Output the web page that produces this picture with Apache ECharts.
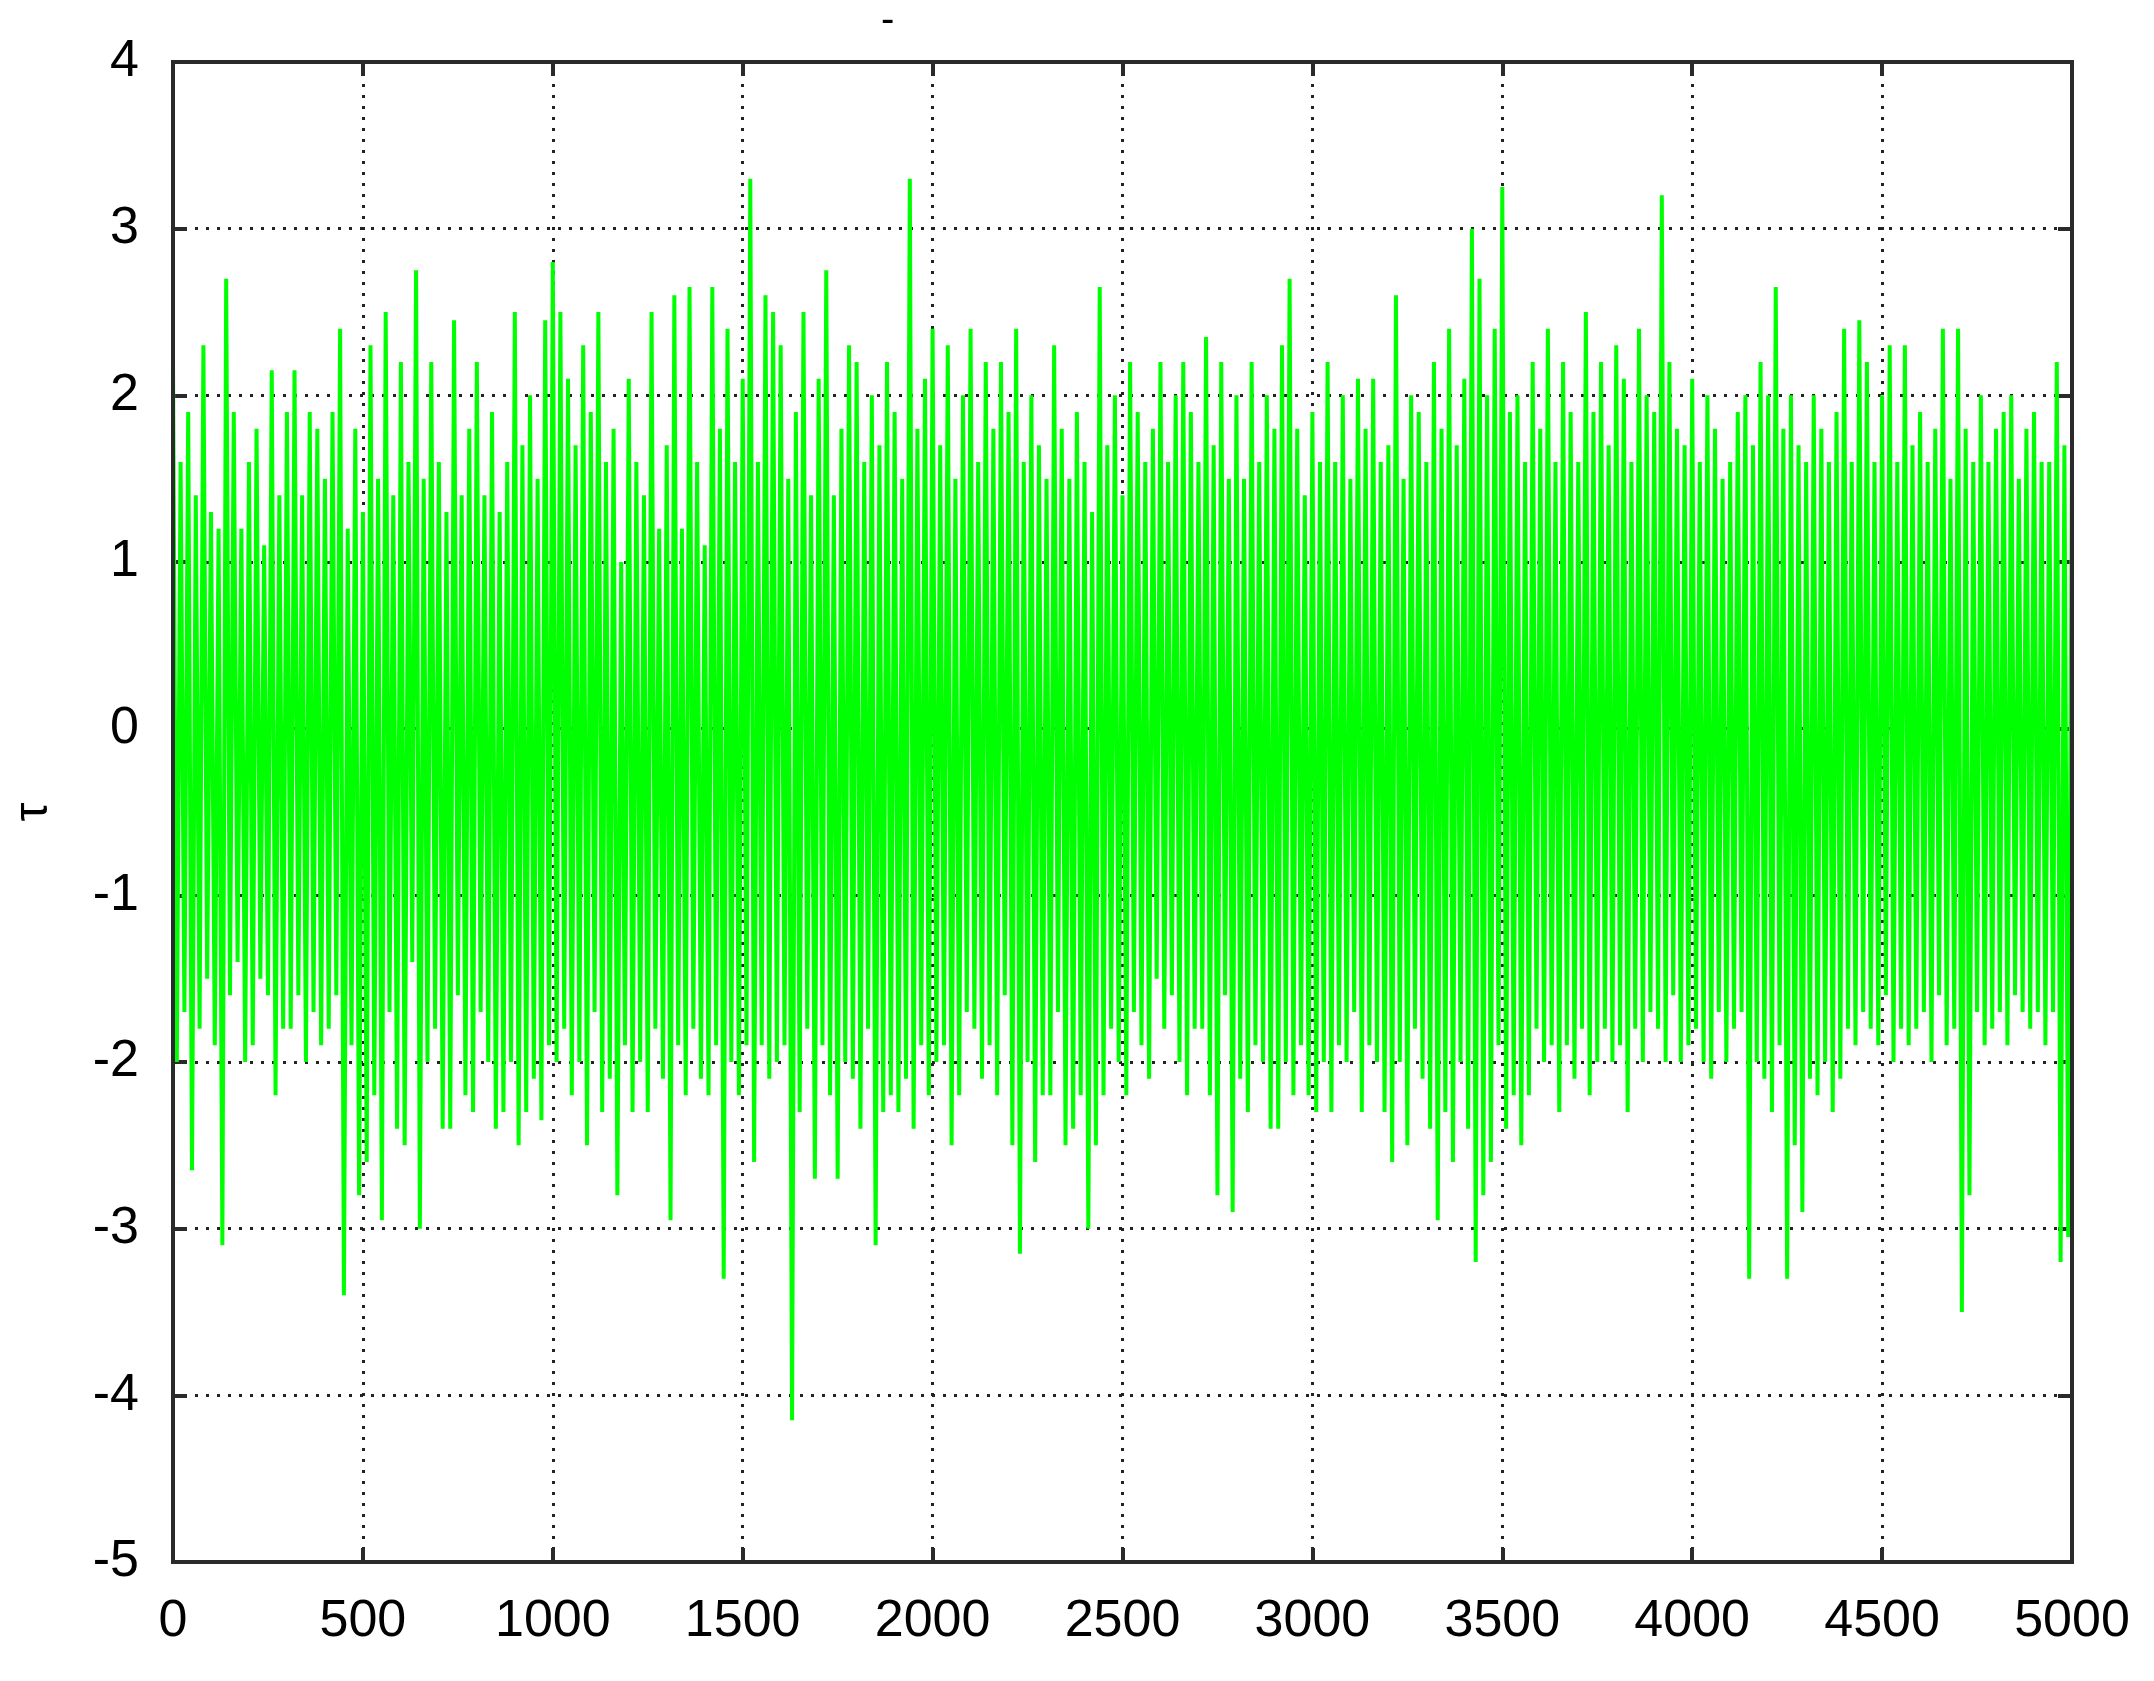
<!DOCTYPE html>
<html><head><meta charset="utf-8">
<script src="https://cdn.jsdelivr.net/npm/echarts@6/dist/echarts.min.js"></script>
<style>html,body{margin:0;padding:0;background:#fff}#main{width:2154px;height:1681px}</style>
</head><body><div id="main"></div>
<script>
// samples every 10 steps, alternating high / low readings of the trace
var step = 10;
var tauValues = [
 2.2,-2.0,1.6,-1.7,1.9,-2.65,1.4,-1.8,2.3,-1.5,
 1.3,-1.9,1.2,-3.1,2.7,-1.6,1.9,-1.4,1.2,-2.0,
 1.6,-1.9,1.8,-1.5,1.1,-1.6,2.15,-2.2,1.4,-1.8,
 1.9,-1.8,2.15,-1.6,1.4,-2.0,1.9,-1.7,1.8,-1.9,
 1.5,-1.8,1.9,-1.6,2.4,-3.4,1.2,-1.9,1.8,-2.8,
 1.3,-2.6,2.3,-2.2,1.5,-2.95,2.5,-1.7,1.4,-2.4,
 2.2,-2.5,1.6,-1.4,2.75,-3.0,1.5,-2.0,2.2,-1.8,
 1.6,-2.4,1.3,-2.4,2.45,-1.6,1.4,-2.2,1.8,-2.3,
 2.2,-1.7,1.4,-2.0,1.9,-2.4,1.3,-2.3,1.6,-2.0,
 2.5,-2.5,1.7,-2.3,2.0,-2.1,1.5,-2.35,2.45,-1.9,
 2.8,-2.0,2.5,-1.8,2.1,-2.2,1.7,-2.0,2.3,-2.5,
 1.9,-1.7,2.5,-2.3,1.6,-2.1,1.8,-2.8,1.0,-1.9,
 2.1,-2.3,1.6,-2.0,1.4,-2.3,2.5,-1.8,1.2,-2.1,
 1.7,-2.95,2.6,-1.9,1.2,-2.2,2.65,-1.8,1.6,-2.1,
 1.1,-2.2,2.65,-1.9,1.8,-3.3,2.4,-2.0,1.6,-2.2,
 2.1,-1.9,3.3,-2.6,1.6,-1.9,2.6,-2.1,2.5,-2.0,
 2.3,-1.9,1.5,-4.15,1.9,-2.3,2.5,-1.8,1.4,-2.7,
 2.1,-1.9,2.75,-2.2,1.4,-2.7,1.8,-2.0,2.3,-2.1,
 2.2,-2.4,1.6,-1.8,2.0,-3.1,1.7,-2.3,2.2,-2.2,
 1.9,-2.3,1.5,-2.1,3.3,-2.4,1.8,-1.9,2.1,-2.2,
 2.4,-2.0,1.7,-1.9,2.3,-2.5,1.5,-2.2,2.0,-1.7,
 2.4,-1.8,1.6,-2.1,2.2,-1.9,1.8,-2.2,2.2,-1.6,
 1.9,-2.5,2.4,-3.15,1.6,-2.0,2.0,-2.6,1.7,-2.2,
 1.5,-2.2,2.3,-1.7,1.8,-2.5,1.5,-2.4,1.9,-2.2,
 1.6,-3.0,1.3,-2.5,2.65,-2.2,1.7,-1.8,2.0,-2.0,
 1.4,-2.2,2.2,-1.7,1.9,-1.9,1.6,-2.1,1.8,-1.5,
 2.2,-1.8,1.6,-1.6,2.0,-2.0,2.2,-2.2,1.9,-1.8,
 1.6,-1.8,2.35,-2.2,1.7,-2.8,2.2,-1.6,1.5,-2.9,
 2.0,-2.1,1.5,-2.3,2.2,-1.9,1.6,-2.0,2.0,-2.4,
 1.8,-2.4,2.3,-2.0,2.7,-2.2,1.8,-1.9,1.4,-2.2,
 1.9,-2.3,1.6,-2.0,2.2,-2.3,1.6,-1.9,2.0,-2.0,
 1.5,-1.7,2.1,-2.3,1.8,-1.9,2.1,-2.0,1.6,-2.3,
 1.7,-2.6,2.6,-2.0,1.5,-2.5,2.0,-1.8,1.9,-2.1,
 1.6,-2.4,2.2,-2.95,1.8,-2.3,2.4,-2.6,1.7,-2.0,
 2.1,-2.4,3.0,-3.2,2.7,-2.8,2.0,-2.6,2.4,-1.9,
 3.25,-2.4,1.9,-2.2,2.0,-2.5,1.6,-2.2,2.2,-1.8,
 1.8,-2.0,2.4,-1.9,1.6,-2.3,2.2,-1.9,1.9,-2.1,
 1.6,-1.8,2.5,-2.2,1.9,-2.0,2.2,-1.8,1.7,-2.0,
 2.3,-1.9,2.1,-2.3,1.6,-1.8,2.4,-2.0,2.0,-1.7,
 1.9,-1.8,3.2,-2.0,2.2,-1.6,1.8,-2.0,1.7,-1.9,
 2.1,-1.8,1.6,-2.0,2.0,-2.1,1.8,-1.7,1.5,-2.0,
 1.6,-1.8,1.9,-1.7,2.0,-3.3,1.7,-2.0,2.2,-2.1,
 2.0,-2.3,2.65,-1.9,1.8,-3.3,2.0,-2.5,1.7,-2.9,
 1.6,-2.1,2.0,-2.2,1.8,-2.0,1.6,-2.3,1.9,-2.1,
 2.4,-1.8,1.6,-1.9,2.45,-1.7,2.2,-1.8,1.6,-1.9,
 2.0,-1.6,2.3,-2.0,1.6,-1.8,2.3,-1.9,1.7,-1.8,
 1.9,-1.7,1.6,-2.0,1.8,-1.6,2.4,-1.9,1.5,-1.8,
 2.4,-3.5,1.8,-2.8,1.6,-1.7,2.0,-1.9,1.6,-1.8,
 1.8,-1.7,1.9,-1.9,2.0,-1.6,1.5,-1.7,1.8,-1.8,
 1.9,-1.7,1.6,-1.9,1.6,-1.7,2.2,-3.2,1.7,-3.05,
 1.7
];

var seriesData = [];
for (var i = 0; i < tauValues.length; i++) {
    seriesData.push([i * step, tauValues[i]]);
}

var lbl = {color:'#000', fontSize:52, fontFamily:'Liberation Sans, Arial', formatter:function(v){return String(v);}};
var axLine = {show:true, onZero:false, lineStyle:{color:'#2a2a2a', width:4}};
var dots = {show:true, lineStyle:{color:'#222', width:3, type:[3,8]}};
var tick = {show:true, inside:true, length:14, lineStyle:{color:'#2a2a2a', width:4}};

var myChart = echarts.init(document.getElementById('main'));
myChart.setOption({
    animation:false,
    title:{text:'-', left:876, top:-4, textStyle:{fontSize:40, fontWeight:'normal', color:'#000'}},
    grid:{left:173, right:82, top:62, bottom:119, show:true, borderColor:'#2a2a2a', borderWidth:4, z:10},
    xAxis:[{
        type:'value', min:0, max:5000, interval:500,
        axisLine:axLine, axisTick:tick, splitLine:dots,
        axisLabel:Object.assign({margin:34}, lbl)
    },{
        type:'value', position:'top', min:0, max:5000, interval:500,
        axisLine:axLine, axisTick:tick, splitLine:{show:false}, axisLabel:{show:false}
    }],
    yAxis:[{
        type:'value', min:-5, max:4, interval:1,
        name:'τ', nameLocation:'middle', nameGap:115, nameRotate:90,
        nameTextStyle:{fontSize:48, color:'#000'},
        axisLine:axLine, axisTick:tick, splitLine:dots,
        axisLabel:Object.assign({margin:34}, lbl)
    },{
        type:'value', position:'right', min:-5, max:4, interval:1,
        axisLine:axLine, axisTick:tick, splitLine:{show:false}, axisLabel:{show:false}
    }],
    series:[{
        type:'line', data:seriesData, showSymbol:false, z:1,
        lineStyle:{color:'#00ff00', width:4}
    }]
});
</script></body></html>
